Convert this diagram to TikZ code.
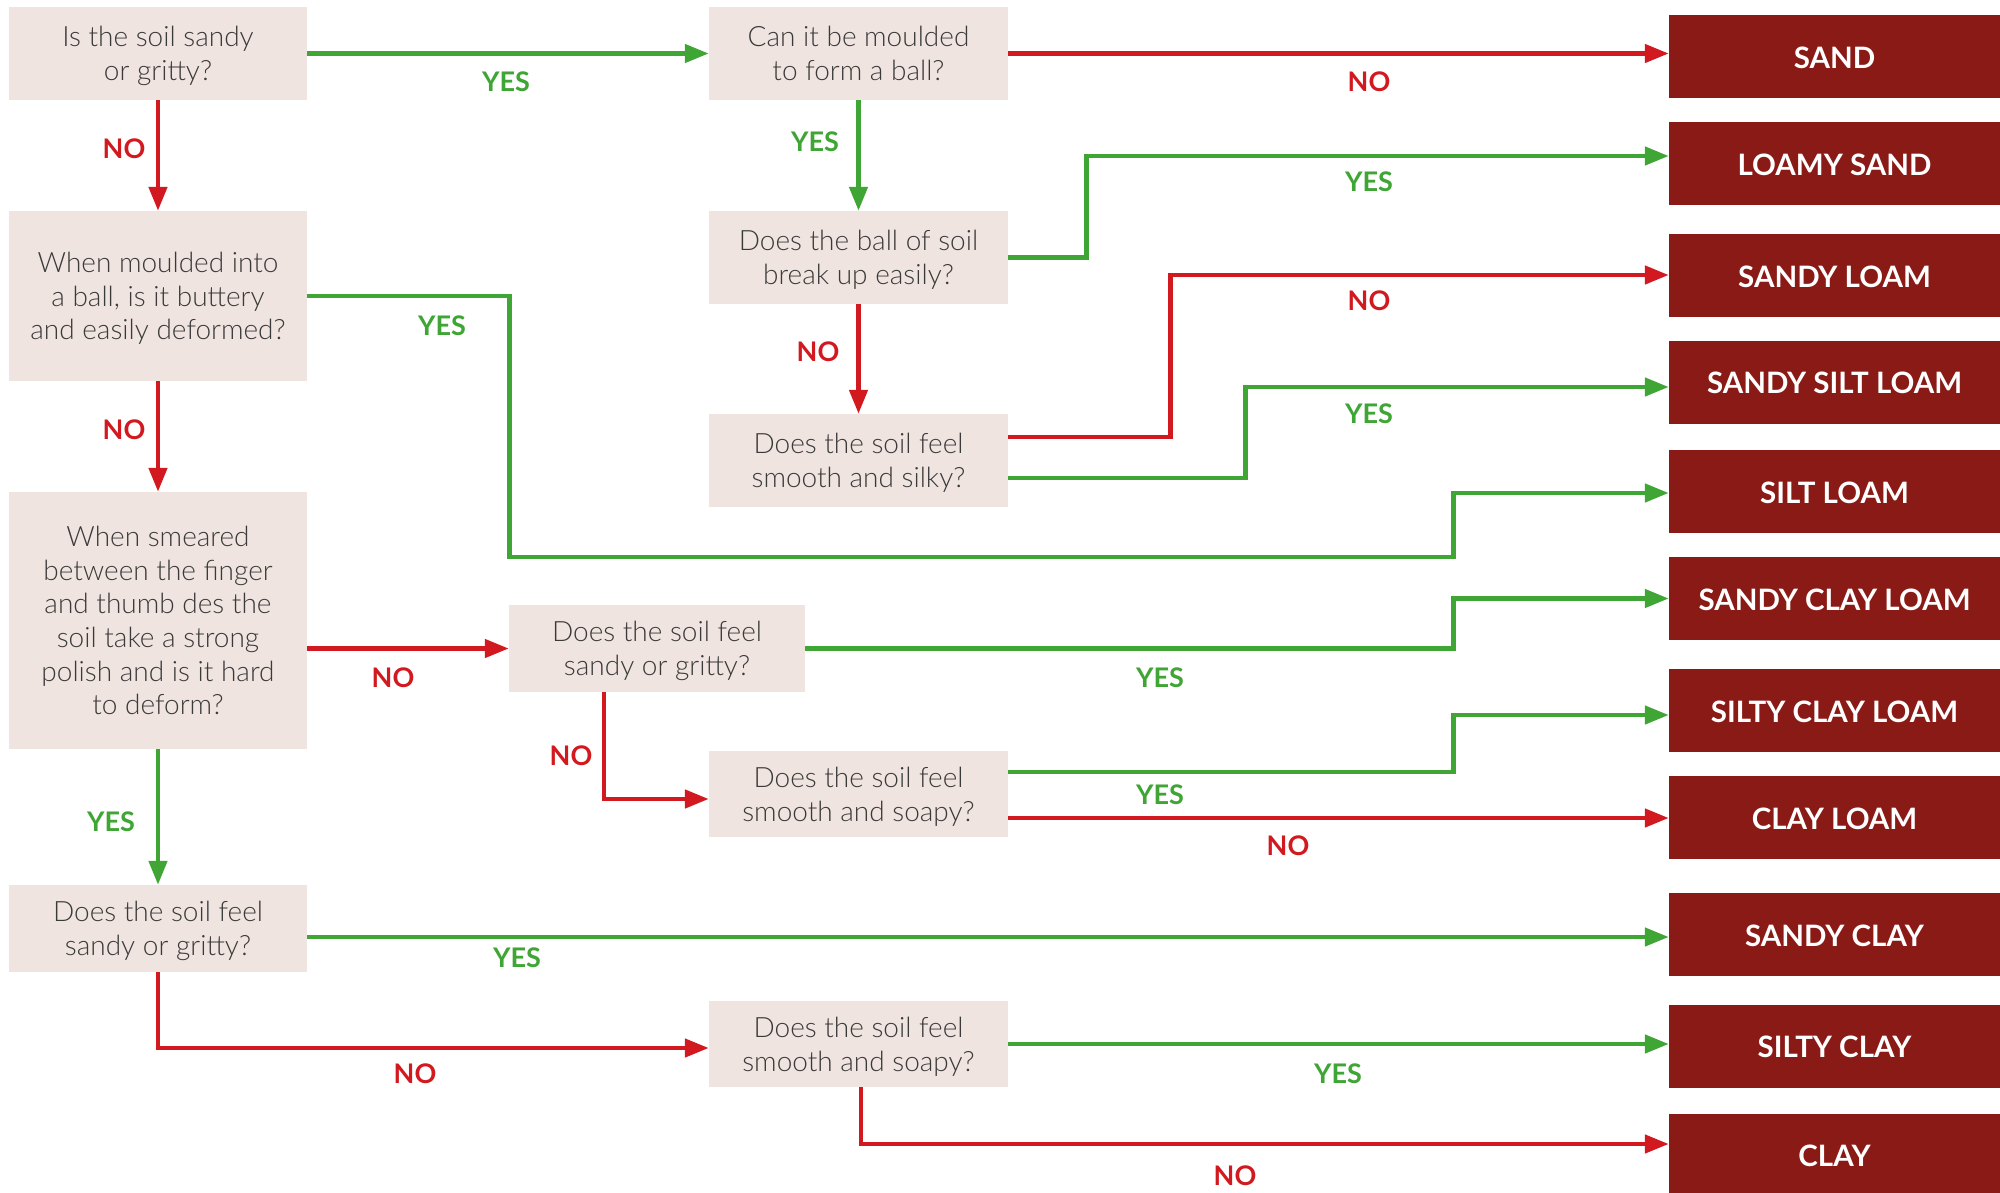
\documentclass[tikz,border=0pt]{standalone}
\usepackage{fontspec}
\setmainfont{Lato}
\newfontfamily\qlight{Lato Light}
\usetikzlibrary{arrows.meta,calc}
\definecolor{qfill}{HTML}{F0E4E0}
\definecolor{rfill}{HTML}{8A1A15}
\definecolor{yesc}{HTML}{3FA535}
\definecolor{noc}{HTML}{D2191F}
\definecolor{qtext}{HTML}{3A3A3A}
\begin{document}
\begin{tikzpicture}[x=1pt,y=-1pt,
  qbox/.style={fill=qfill, inner sep=0pt, align=center, text=qtext,
    text depth=-7pt, font=\qlight\fontsize{28}{33.7}\selectfont},
  rbox/.style={fill=rfill, inner sep=0pt, text=white, text height=24pt,
    font=\bfseries\fontsize{29.5}{34}\selectfont,
    minimum width=331pt, minimum height=83pt},
  yesarrow/.style={draw=yesc, line width=4.6pt, -{Triangle[length=24pt,width=18pt]}},
  noarrow/.style={draw=noc, line width=4.6pt, -{Triangle[length=24pt,width=18pt]}},
  yeslab/.style={text=yesc, inner sep=0pt, font=\bfseries\fontsize{27}{30}\selectfont},
  nolab/.style={text=noc, inner sep=0pt, font=\bfseries\fontsize{27}{30}\selectfont}
]
\useasboundingbox (0,0) rectangle (2000,1192);

% question boxes
\node[qbox, minimum width=298pt, minimum height=93pt] (q1) at (158,53.5) {Is the soil sandy\\or gritty?};
\node[qbox, minimum width=299pt, minimum height=93pt] (q2) at (858.5,53.5) {Can it be moulded\\to form a ball?};
\node[qbox, minimum width=298pt, minimum height=170pt] (q3) at (158,296) {When moulded into\\a ball, is it buttery\\and easily deformed?};
\node[qbox, minimum width=299pt, minimum height=93pt] (q4) at (858.5,257.5) {Does the ball of soil\\break up easily?};
\node[qbox, minimum width=299pt, minimum height=93pt] (q5) at (858.5,460.5) {Does the soil feel\\smooth and silky?};
\node[qbox, minimum width=298pt, minimum height=257pt] (q6) at (158,620.5) {When smeared\\between the finger\\and thumb des the\\soil take a strong\\polish and is it hard\\to deform?};
\node[qbox, minimum width=296pt, minimum height=87pt] (q7) at (657,648.5) {Does the soil feel\\sandy or gritty?};
\node[qbox, minimum width=299pt, minimum height=86pt] (q8) at (858.5,794) {Does the soil feel\\smooth and soapy?};
\node[qbox, minimum width=298pt, minimum height=87pt] (q9) at (158,928.5) {Does the soil feel\\sandy or gritty?};
\node[qbox, minimum width=299pt, minimum height=86pt] (q10) at (858.5,1044) {Does the soil feel\\smooth and soapy?};

% result boxes
\node[rbox] (r1) at (1834.5,56.5) {SAND};
\node[rbox] (r2) at (1834.5,163.5) {LOAMY SAND};
\node[rbox] (r3) at (1834.5,275.5) {SANDY LOAM};
\node[rbox] (r4) at (1834.5,382) {SANDY SILT LOAM};
\node[rbox] (r5) at (1834.5,491.5) {SILT LOAM};
\node[rbox] (r6) at (1834.5,598.5) {SANDY CLAY LOAM};
\node[rbox] (r7) at (1834.5,710.5) {SILTY CLAY LOAM};
\node[rbox] (r8) at (1834.5,817.5) {CLAY LOAM};
\node[rbox] (r9) at (1834.5,934.5) {SANDY CLAY};
\node[rbox] (r10) at (1834.5,1046) {SILTY CLAY};
\node[rbox] (r11) at (1834.5,1155) {CLAY};

% connectors
\draw[yesarrow] (q1.east) -- (q2.west);
\draw[noarrow] (q2.east) -- (q2.east -| r1.west);
\draw[noarrow] (q1.south) -- (q3.north);
\draw[yesarrow] (q2.south) -- (q4.north);
\draw[yesarrow] (q4.east) -- ++(78,0) |- ([yshift=7.5pt]r2.west);
\draw[noarrow] (q4.south) -- (q5.north);
\draw[noarrow] ([yshift=23.5pt]q5.east) -- ++(162,0) |- ([yshift=0.5pt]r3.west);
\draw[yesarrow] ([yshift=-17.5pt]q5.east) -- ++(237,0) |- ([yshift=-5pt]r4.west);
\draw[yesarrow] (q3.east) -- ++(202,0) -- ++(0,261) -- ++(944,0) |- ([yshift=-1.5pt]r5.west);
\draw[noarrow] (q3.south) -- (q6.north);
\draw[noarrow] (q6.east |- q7.west) -- (q7.west);
\draw[yesarrow] (q7.east) -- ++(648,0) |- (r6.west);
\draw[noarrow] ([xshift=-53pt]q7.south) |- ([yshift=-5pt]q8.west);
\draw[yesarrow] ([yshift=22pt]q8.east) -- ++(445,0) |- ([yshift=-4.5pt]r7.west);
\draw[noarrow] ([yshift=-24pt]q8.east) -- ([yshift=-24pt]q8.east -| r8.west);
\draw[yesarrow] (q6.south) -- (q9.north);
\draw[yesarrow] ([yshift=-8.5pt]q9.east) -- ([yshift=-8.5pt]q9.east -| r9.west);
\draw[noarrow] (q9.south) |- ([yshift=-4pt]q10.west);
\draw[yesarrow] (q10.east) -- (q10.east -| r10.west);
\draw[noarrow] ([xshift=2.5pt]q10.south) |- ([yshift=11pt]r11.west);

% labels
\node[yeslab] (l1) at (506,82) {YES};
\node[nolab] (l2) at (1369,82) {NO};
\node[nolab] (l3) at (124,149) {NO};
\node[yeslab] (l4) at (815,142) {YES};
\node[yeslab] (l5) at (1369,182) {YES};
\node[nolab] (l6) at (818,352) {NO};
\node[nolab] (l7) at (1369,301) {NO};
\node[yeslab] (l8) at (1369,414) {YES};
\node[yeslab] (l9) at (442,326) {YES};
\node[nolab] (l10) at (124,430) {NO};
\node[nolab] (l11) at (393,678) {NO};
\node[yeslab] (l12) at (1160,678) {YES};
\node[nolab] (l13) at (571,756) {NO};
\node[yeslab] (l14) at (1160,795) {YES};
\node[nolab] (l15) at (1288,846) {NO};
\node[yeslab] (l16) at (111,822) {YES};
\node[yeslab] (l17) at (517,958) {YES};
\node[nolab] (l18) at (415,1074) {NO};
\node[yeslab] (l19) at (1338,1074) {YES};
\node[nolab] (l20) at (1235,1176) {NO};
\end{tikzpicture}
\end{document}
